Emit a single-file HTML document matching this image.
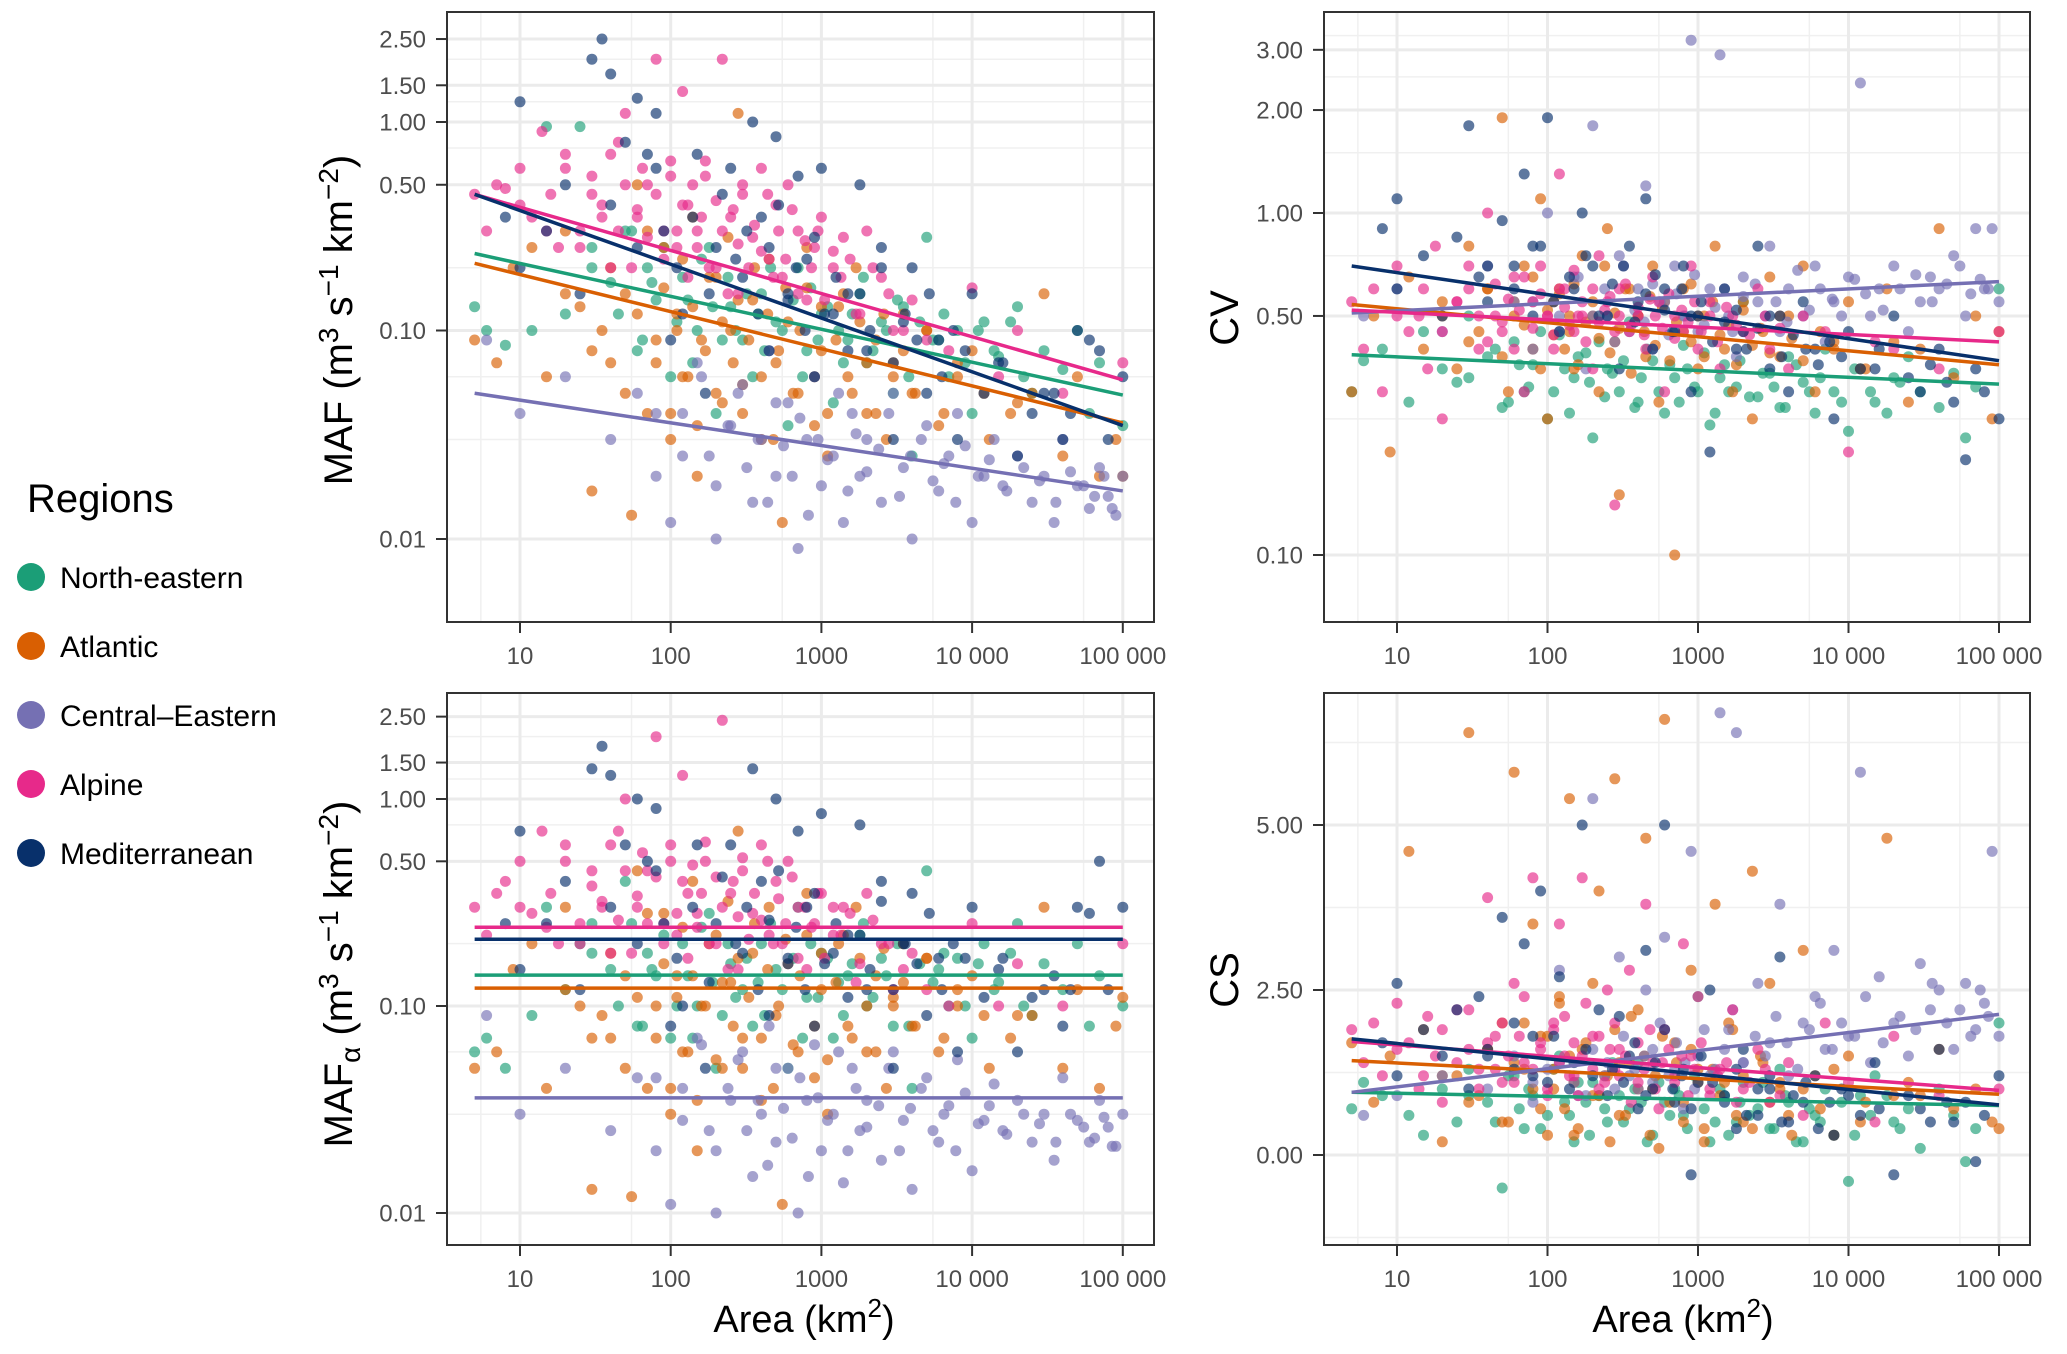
<!DOCTYPE html>
<html><head><meta charset="utf-8"><style>
html,body{margin:0;padding:0;background:#fff;}
svg{display:block;font-family:"Liberation Sans",sans-serif;}
</style></head><body>
<svg id="chart" width="2067" height="1354" viewBox="0 0 2067 1354" xmlns="http://www.w3.org/2000/svg">
<g>
<text x="27" y="512" font-size="40" fill="#000">Regions</text>
<g><circle cx="31" cy="577" r="14" fill="#1b9e77"/><text x="60" y="588" font-size="30">North-eastern</text></g>
<g><circle cx="31" cy="646" r="14" fill="#d95f02"/><text x="60" y="657" font-size="30">Atlantic</text></g>
<g><circle cx="31" cy="715" r="14" fill="#7570b3"/><text x="60" y="726" font-size="30">Central–Eastern</text></g>
<g><circle cx="31" cy="784" r="14" fill="#e7298a"/><text x="60" y="795" font-size="30">Alpine</text></g>
<g><circle cx="31" cy="853" r="14" fill="#08306b"/><text x="60" y="864" font-size="30">Mediterranean</text></g>
</g>
<text transform="translate(352,320) rotate(-90)" text-anchor="middle" font-size="40">MAF (m<tspan font-size="28" dy="-14">3</tspan><tspan dy="14"> s</tspan><tspan font-size="28" dy="-14">−1</tspan><tspan dy="14"> km</tspan><tspan font-size="28" dy="-14">−2</tspan><tspan dy="14">)</tspan></text>
<text transform="translate(352,974) rotate(-90)" text-anchor="middle" font-size="40">MAF<tspan font-size="28" dy="8">α</tspan><tspan dy="-8"> (m</tspan><tspan font-size="28" dy="-14">3</tspan><tspan dy="14"> s</tspan><tspan font-size="28" dy="-14">−1</tspan><tspan dy="14"> km</tspan><tspan font-size="28" dy="-14">−2</tspan><tspan dy="14">)</tspan></text>
<text transform="translate(1238,318) rotate(-90)" text-anchor="middle" font-size="40">CV</text>
<text transform="translate(1238,980) rotate(-90)" text-anchor="middle" font-size="40">CS</text>
<text x="804" y="1332" text-anchor="middle" font-size="38">Area (km<tspan font-size="26" dy="-15">2</tspan><tspan dy="15">)</tspan></text>
<text x="1683" y="1332" text-anchor="middle" font-size="38">Area (km<tspan font-size="26" dy="-15">2</tspan><tspan dy="15">)</tspan></text>
</svg>
<script>
const regions = ['north-eastern','atlantic','central-eastern','alpine','mediterranean'];
const colors = ['#1b9e77','#d95f02','#7570b3','#e7298a','#08306b'];
const xTicks = [10,100,1000,10000,100000];
const xTickLabels = ['10','100','1000','10 000','100 000'];
const mafTicks = [0.01,0.10,0.50,1.00,1.50,2.50];
const mafTickLabels = ['0.01','0.10','0.50','1.00','1.50','2.50'];
const cvTicks = [0.10,0.50,1.00,2.00,3.00];
const cvTickLabels = ['0.10','0.50','1.00','2.00','3.00'];
const csTicks = [0,2.5,5];
const csTickLabels = ['0.00','2.50','5.00'];

const neArea=[5,6,8,12,15,20,25,30,40,50,60,70,80,100,120,150,180,200,250,300,350,400,500,600,700,800,1000,1200,1500,1800,2000,2500,3000,3500,4000,5000,6000,7000,8000,10000,12000,15000,20000,25000,30000,40000,50000,60000,70000,100000,
30,45,55,65,75,90,110,130,140,160,190,220,240,270,320,380,420,460,550,650,750,850,950,1100,1300,1400,1600,1900,2200,2700,3200,3800,4500,5500,6500,9000,11000,14000,18000,22000];
const neMAF=[0.13,0.1,0.085,0.1,0.95,0.12,0.95,0.25,0.17,0.3,0.08,0.2,0.14,0.06,0.18,0.1,0.25,0.04,0.13,0.09,0.06,0.15,0.11,0.035,0.2,0.08,0.12,0.045,0.09,0.15,0.07,0.11,0.05,0.13,0.025,0.28,0.09,0.06,0.1,0.04,0.11,0.075,0.13,0.05,0.08,0.065,0.1,0.04,0.07,0.035,
0.2,0.12,0.3,0.09,0.17,0.25,0.11,0.14,0.07,0.22,0.13,0.09,0.18,0.1,0.15,0.12,0.08,0.2,0.1,0.14,0.06,0.16,0.09,0.13,0.1,0.07,0.12,0.18,0.08,0.1,0.14,0.06,0.11,0.09,0.12,0.07,0.1,0.08,0.11,0.06];
const neMAFa=[0.06,0.07,0.05,0.09,0.3,0.12,0.2,0.25,0.15,0.4,0.08,0.18,0.14,0.07,0.2,0.1,0.28,0.05,0.16,0.12,0.08,0.2,0.15,0.05,0.3,0.11,0.18,0.07,0.14,0.22,0.1,0.17,0.08,0.2,0.04,0.45,0.15,0.1,0.17,0.07,0.2,0.13,0.25,0.09,0.16,0.12,0.2,0.08,0.14,0.1,
0.18,0.1,0.25,0.08,0.15,0.22,0.1,0.14,0.07,0.24,0.13,0.09,0.2,0.11,0.17,0.13,0.09,0.25,0.12,0.17,0.07,0.2,0.11,0.17,0.13,0.09,0.16,0.25,0.11,0.14,0.2,0.08,0.16,0.13,0.18,0.1,0.16,0.12,0.18,0.1];
const neCV=[0.3,0.37,0.4,0.28,0.45,0.35,0.32,0.5,0.38,0.27,0.42,0.3,0.36,0.25,0.44,0.33,0.39,0.22,0.35,0.3,0.48,0.28,0.37,0.26,0.33,0.41,0.3,0.24,0.36,0.31,0.55,0.29,0.34,0.27,0.38,0.32,0.26,0.4,0.3,0.23,0.35,0.28,0.33,0.38,0.3,0.27,0.34,0.22,0.31,0.6,
0.33,0.4,0.28,0.36,0.31,0.45,0.3,0.35,0.26,0.38,0.32,0.42,0.29,0.34,0.37,0.27,0.33,0.4,0.3,0.36,0.28,0.35,0.31,0.39,0.26,0.33,0.3,0.37,0.29,0.34,0.31,0.27,0.36,0.3,0.33,0.28,0.35,0.3,0.26,0.32];
const neCS=[0.7,1.1,0.9,0.6,0.3,1.0,0.5,1.3,0.8,-0.5,1.2,0.4,0.9,0.6,1.5,0.2,0.8,1.1,0.5,0.9,0.7,1.4,0.3,0.8,1.0,0.6,2.4,0.2,0.9,0.5,1.1,0.7,0.4,1.3,0.8,0.2,0.6,1.0,0.3,-0.4,0.9,1.2,0.5,0.7,0.1,1.0,0.6,-0.1,0.4,2.0,
0.9,0.5,1.2,0.7,1.0,0.4,1.3,0.8,0.6,1.1,0.3,0.9,0.7,1.4,0.5,1.0,0.8,0.2,1.1,0.6,0.9,0.4,1.2,0.7,0.5,1.0,0.3,0.8,0.6,1.1,0.4,0.9,0.2,0.7,0.5,0.8,0.3,0.6,0.9,0.4];

const atArea=[5,7,9,12,15,20,25,30,35,40,50,55,60,70,80,90,100,110,120,140,150,170,200,220,250,280,300,350,400,450,500,550,600,700,800,900,1000,1100,1300,1500,1700,2000,2300,2700,3000,3500,4000,5000,6000,8000,10000,13000,18000,25000,30000,40000,50000,70000,90000,100000,
20,30,40,50,60,70,80,90,100,110,120,130,140,150,160,180,200,220,240,260,280,300,330,360,400,440,480,520,580,650,720,800,900,1000,1100,1250,1400,1600,1800,2000,2300,2600,3000,3500,4200,5000,6500,8000,12000,20000];
const atMAF=[0.09,0.07,0.2,0.25,0.06,0.3,0.13,0.017,0.1,0.07,0.15,0.013,0.5,0.04,0.09,0.25,0.03,0.12,0.06,0.35,0.02,0.08,0.18,0.045,0.1,1.1,0.055,0.14,0.03,0.22,0.07,0.012,0.11,0.05,0.16,0.035,0.08,0.025,0.13,0.06,0.2,0.04,0.09,0.03,0.07,0.12,0.05,0.1,0.035,0.06,0.08,0.03,0.04,0.05,0.15,0.025,0.06,0.02,0.03,0.02,
0.15,0.08,0.2,0.05,0.12,0.3,0.07,0.16,0.04,0.1,0.22,0.06,0.13,0.035,0.09,0.18,0.05,0.11,0.28,0.07,0.14,0.04,0.09,0.2,0.06,0.12,0.03,0.08,0.16,0.05,0.1,0.25,0.06,0.13,0.04,0.09,0.15,0.05,0.11,0.07,0.04,0.12,0.06,0.08,0.05,0.1,0.04,0.07,0.05,0.045];
const atMAFa=[0.05,0.06,0.15,0.2,0.04,0.3,0.1,0.013,0.09,0.07,0.14,0.012,0.45,0.04,0.1,0.28,0.03,0.14,0.06,0.4,0.02,0.1,0.22,0.05,0.13,0.7,0.07,0.18,0.035,0.3,0.09,0.011,0.16,0.06,0.22,0.045,0.12,0.03,0.2,0.08,0.3,0.06,0.14,0.04,0.11,0.2,0.08,0.17,0.06,0.1,0.14,0.05,0.07,0.09,0.3,0.05,0.12,0.04,0.08,0.11,
0.12,0.07,0.18,0.05,0.11,0.28,0.07,0.16,0.04,0.11,0.24,0.06,0.14,0.035,0.1,0.2,0.055,0.13,0.32,0.08,0.17,0.05,0.11,0.25,0.07,0.15,0.04,0.1,0.21,0.065,0.14,0.35,0.08,0.18,0.055,0.13,0.22,0.07,0.17,0.1,0.06,0.19,0.1,0.13,0.08,0.17,0.07,0.12,0.09,0.09];
const atCV=[0.3,0.5,0.2,0.65,0.4,0.55,0.35,0.8,0.45,0.6,1.9,0.3,0.5,0.7,0.4,1.1,0.25,0.55,0.6,0.45,0.35,0.75,0.5,0.3,0.9,0.42,0.15,0.6,0.5,0.38,0.7,0.28,0.55,0.1,0.45,0.62,0.35,0.5,0.8,0.4,0.3,0.55,0.25,0.45,0.65,0.38,0.5,0.7,0.3,0.42,0.55,0.35,0.6,0.28,0.4,0.9,0.33,0.5,0.25,0.45,
0.5,0.42,0.6,0.38,0.55,0.47,0.65,0.35,0.52,0.44,0.58,0.4,0.5,0.62,0.36,0.48,0.55,0.43,0.7,0.39,0.51,0.46,0.6,0.34,0.5,0.45,0.57,0.41,0.53,0.37,0.48,0.6,0.42,0.5,0.38,0.55,0.44,0.47,0.36,0.52,0.41,0.46,0.39,0.5,0.43,0.37,0.45,0.4,0.35,0.42];
const atCS=[1.7,0.8,1.5,4.6,1.9,0.2,1.2,6.4,0.9,1.6,2.0,0.5,5.8,1.3,3.5,0.7,1.8,1.0,2.4,5.4,0.3,1.6,0.9,4.0,1.2,5.7,0.6,1.4,2.2,4.8,1.0,0.1,6.6,1.7,0.8,2.8,1.3,0.4,3.8,1.1,1.9,0.5,4.3,1.4,2.6,1.0,0.6,3.1,1.2,0.3,1.5,0.8,4.8,1.1,0.9,1.6,0.7,1.0,0.5,0.4,
1.2,0.8,1.6,0.5,1.4,2.0,1.0,1.8,0.3,1.3,2.3,0.7,1.5,1.1,0.4,1.7,2.6,0.9,1.2,0.2,1.9,1.4,0.6,2.1,1.0,1.5,0.3,1.2,1.8,0.8,1.4,0.5,1.6,1.1,0.2,1.3,0.9,2.0,0.6,1.2,0.4,1.5,0.8,1.1,0.3,1.0,0.7,1.3,0.5,0.9];

const ceArea=[6,10,20,40,60,80,100,120,150,180,200,250,300,350,400,450,500,600,700,800,900,1000,1200,1400,1600,1800,2000,2500,3000,3500,4000,5000,6000,7000,8000,10000,12000,14000,16000,20000,25000,30000,35000,40000,50000,60000,70000,80000,90000,100000,
80,120,160,200,240,280,320,380,440,500,560,640,720,820,950,1100,1300,1500,1700,2000,2400,2800,3300,3900,4600,5500,6500,7800,9000,11000,13000,17000,22000,28000,36000,45000,55000,65000,75000,85000];
const ceMAF=[0.09,0.04,0.06,0.03,0.05,0.02,0.012,0.04,0.07,0.025,0.01,0.035,0.055,0.015,0.03,0.08,0.02,0.045,0.009,0.03,0.06,0.018,0.025,0.012,0.04,0.02,0.03,0.015,0.05,0.022,0.01,0.035,0.017,0.025,0.04,0.012,0.02,0.03,0.018,0.025,0.015,0.02,0.012,0.03,0.018,0.014,0.022,0.016,0.013,0.02,
0.04,0.025,0.06,0.018,0.035,0.05,0.022,0.03,0.015,0.045,0.028,0.02,0.038,0.013,0.03,0.024,0.05,0.017,0.032,0.021,0.027,0.04,0.016,0.025,0.03,0.019,0.023,0.015,0.028,0.02,0.024,0.017,0.022,0.019,0.015,0.021,0.018,0.016,0.02,0.014];
const ceMAFa=[0.09,0.03,0.05,0.025,0.045,0.02,0.011,0.04,0.07,0.025,0.01,0.035,0.06,0.015,0.03,0.08,0.022,0.05,0.01,0.035,0.065,0.02,0.03,0.014,0.05,0.025,0.035,0.018,0.06,0.028,0.013,0.045,0.022,0.033,0.055,0.016,0.028,0.042,0.025,0.035,0.022,0.03,0.018,0.045,0.028,0.022,0.035,0.026,0.021,0.03,
0.045,0.028,0.065,0.02,0.04,0.055,0.025,0.035,0.017,0.05,0.032,0.023,0.045,0.015,0.036,0.028,0.06,0.02,0.04,0.026,0.033,0.05,0.02,0.032,0.04,0.025,0.03,0.02,0.038,0.027,0.033,0.024,0.03,0.027,0.022,0.03,0.026,0.023,0.029,0.021];
const ceCV=[0.5,0.6,0.45,0.7,0.55,0.4,1.0,0.5,0.65,0.35,1.8,0.5,0.75,0.45,0.6,1.2,0.4,0.55,0.7,0.5,3.2,0.45,0.6,2.9,0.5,0.38,0.65,0.55,0.8,0.45,0.6,0.5,0.7,0.42,0.55,0.65,2.4,0.5,0.6,0.7,0.45,0.55,0.65,0.6,0.75,0.5,0.9,0.6,0.9,0.55,
0.55,0.45,0.65,0.5,0.6,0.42,0.7,0.52,0.48,0.62,0.55,0.44,0.58,0.5,0.66,0.47,0.53,0.6,0.45,0.57,0.62,0.5,0.55,0.48,0.68,0.52,0.6,0.56,0.5,0.64,0.58,0.52,0.6,0.66,0.55,0.62,0.7,0.58,0.64,0.6];
const ceCS=[0.6,0.9,1.2,1.0,1.5,0.8,1.3,2.8,1.1,0.9,5.4,1.4,3.0,1.2,1.0,2.5,1.6,3.3,1.3,0.7,4.6,1.5,1.2,6.7,1.9,6.4,1.4,2.6,1.7,3.8,1.2,2.0,2.4,1.6,3.1,1.8,5.8,1.4,2.7,2.0,1.5,2.9,2.2,2.5,1.6,2.6,1.9,2.3,4.6,1.8,
1.1,1.4,0.9,1.6,1.2,1.0,1.8,1.3,1.5,1.1,2.0,1.2,1.7,1.4,1.0,1.9,1.3,1.6,2.2,1.4,1.8,1.5,2.1,1.7,1.3,1.9,2.3,1.6,2.0,1.8,2.4,1.7,2.1,1.9,2.6,2.0,2.2,1.8,2.5,2.1];

const alArea=[5,6,7,8,10,12,14,16,18,20,25,30,35,40,45,50,60,70,80,90,100,110,120,130,150,170,200,220,250,280,300,350,400,450,500,550,600,700,800,900,1000,1200,1400,1700,2000,2500,3000,4000,5000,7000,10000,15000,20000,40000,100000,
10,15,20,25,30,35,40,45,50,55,60,65,70,80,90,100,110,120,130,140,150,160,170,180,200,220,240,260,280,300,330,360,400,440,480,520,580,640,700,780,860,950,1050,1200,1350,1550,1800,2200,2800,3500];
const alMAF=[0.45,0.3,0.5,0.48,0.6,0.35,0.9,0.45,0.25,0.7,0.3,0.55,0.4,0.2,0.8,1.1,0.35,0.5,2.0,0.3,0.65,0.25,1.4,0.4,0.3,0.55,0.2,2.0,0.35,0.15,0.45,0.28,0.6,0.22,0.4,0.18,0.5,0.3,0.14,0.25,0.35,0.2,0.28,0.12,0.3,0.18,0.1,0.14,0.09,0.08,0.16,0.06,0.1,0.05,0.07,
0.4,0.3,0.6,0.25,0.45,0.35,0.7,0.3,0.5,0.2,0.38,0.6,0.28,0.45,0.22,0.55,0.3,0.4,0.18,0.5,0.25,0.35,0.65,0.2,0.42,0.3,0.15,0.38,0.26,0.5,0.2,0.32,0.24,0.45,0.18,0.3,0.22,0.38,0.15,0.27,0.2,0.3,0.14,0.24,0.18,0.22,0.12,0.2,0.15,0.1];
const alMAFa=[0.3,0.22,0.35,0.4,0.5,0.28,0.7,0.35,0.2,0.6,0.25,0.45,0.32,0.18,0.7,1.0,0.3,0.45,2.0,0.25,0.6,0.22,1.3,0.35,0.28,0.5,0.2,2.4,0.35,0.15,0.45,0.28,0.6,0.22,0.4,0.2,0.5,0.3,0.15,0.25,0.35,0.22,0.3,0.13,0.35,0.2,0.12,0.18,0.12,0.1,0.25,0.1,0.16,0.1,0.2,
0.3,0.24,0.5,0.2,0.38,0.3,0.6,0.26,0.45,0.18,0.34,0.55,0.25,0.42,0.2,0.5,0.28,0.4,0.17,0.48,0.24,0.35,0.62,0.2,0.42,0.3,0.15,0.4,0.27,0.52,0.21,0.35,0.26,0.5,0.2,0.33,0.25,0.42,0.17,0.3,0.24,0.35,0.17,0.3,0.22,0.28,0.16,0.26,0.2,0.15];
const alCV=[0.55,0.4,0.6,0.3,0.7,0.45,0.5,0.35,0.8,0.25,0.55,0.6,0.4,1.0,0.5,0.45,0.65,0.3,0.55,0.7,0.5,0.4,1.3,0.6,0.45,0.5,0.35,0.75,0.55,0.14,0.6,0.45,0.5,0.4,0.65,0.55,0.3,0.5,0.45,0.7,0.4,0.55,0.35,0.5,0.45,0.6,0.4,0.35,0.5,0.45,0.2,0.42,0.4,0.35,0.45,
0.5,0.6,0.45,0.55,0.7,0.5,0.42,0.62,0.48,0.56,0.4,0.52,0.65,0.46,0.58,0.5,0.44,0.6,0.53,0.47,0.68,0.5,0.55,0.42,0.6,0.48,0.52,0.57,0.45,0.5,0.62,0.47,0.53,0.44,0.56,0.5,0.46,0.58,0.43,0.52,0.48,0.55,0.45,0.5,0.42,0.53,0.47,0.44,0.5,0.46];
const alCS=[1.9,1.4,2.0,1.2,2.3,1.7,1.0,2.1,1.5,0.8,2.2,1.6,1.3,3.9,1.8,1.1,2.6,1.4,4.2,1.7,0.9,2.0,3.5,1.5,1.2,4.2,1.8,1.0,2.5,1.3,1.6,2.8,1.1,3.8,1.4,0.7,1.9,1.2,3.2,1.5,2.4,0.9,1.3,2.2,1.0,1.6,0.8,1.4,0.6,2.0,1.1,0.5,1.8,0.9,1.0,
1.6,1.2,1.9,1.4,2.2,1.0,1.7,1.3,2.0,1.5,1.1,1.8,2.4,1.3,1.6,1.0,1.9,1.4,2.1,1.2,1.7,0.9,1.5,2.3,1.3,1.8,1.1,1.6,2.0,1.2,1.5,0.8,1.7,1.3,1.9,1.0,1.4,1.6,1.1,1.5,0.9,1.3,1.7,1.0,1.2,1.4,0.8,1.1,1.3,0.9];

const meArea=[8,10,10,15,20,25,30,35,40,50,60,70,80,90,100,120,150,170,200,250,300,350,400,450,500,600,700,800,900,1000,1200,1500,1800,2000,2500,3000,3500,4000,5000,6000,8000,10000,15000,20000,30000,40000,50000,60000,70000,100000,
40,60,80,110,140,180,220,270,320,380,450,520,600,680,780,900,1050,1250,1500,1800,2100,2500,3000,3600,4300,5200,6300,7500,9000,12000,16000,25000,35000,45000,80000];
const meMAF=[0.35,1.25,0.2,0.3,0.5,0.15,2.0,2.5,1.7,0.8,1.3,0.7,1.1,0.3,0.09,0.12,0.7,0.05,0.25,0.6,0.18,1.0,0.35,0.08,0.85,0.14,0.55,0.22,0.06,0.6,0.12,0.15,0.5,0.08,0.25,0.03,0.11,0.2,0.05,0.09,0.03,0.15,0.07,0.025,0.05,0.03,0.1,0.09,0.08,0.06,
0.4,0.25,0.6,0.2,0.35,0.15,0.45,0.22,0.3,0.12,0.25,0.4,0.15,0.2,0.1,0.28,0.12,0.18,0.08,0.15,0.1,0.2,0.07,0.12,0.09,0.15,0.06,0.1,0.08,0.05,0.07,0.04,0.05,0.04,0.03];
const meMAFa=[0.25,0.7,0.15,0.25,0.4,0.12,1.4,1.8,1.3,0.6,1.0,0.5,0.9,0.25,0.08,0.1,0.6,0.05,0.25,0.6,0.18,1.4,0.4,0.09,1.0,0.16,0.7,0.3,0.08,0.85,0.18,0.22,0.75,0.12,0.4,0.05,0.2,0.35,0.09,0.17,0.06,0.3,0.15,0.06,0.12,0.08,0.3,0.28,0.5,0.3,
0.3,0.2,0.45,0.17,0.3,0.13,0.42,0.2,0.3,0.12,0.26,0.45,0.17,0.24,0.12,0.35,0.16,0.25,0.11,0.22,0.15,0.32,0.12,0.2,0.16,0.28,0.12,0.2,0.17,0.11,0.17,0.11,0.14,0.12,0.12];
const meCV=[0.9,1.1,0.6,0.75,0.5,0.85,1.8,0.65,0.55,0.95,0.7,1.3,0.5,0.8,1.9,0.45,0.6,1.0,0.7,0.5,0.35,0.8,0.55,1.1,0.4,0.6,0.45,0.7,0.3,0.5,0.2,0.6,0.4,0.45,0.8,0.35,0.5,0.3,0.55,0.4,0.25,0.45,0.35,0.5,0.3,0.4,0.28,0.19,0.35,0.25,
0.7,0.6,0.8,0.55,0.65,0.75,0.5,0.62,0.7,0.48,0.58,0.66,0.52,0.45,0.6,0.5,0.55,0.42,0.48,0.52,0.4,0.46,0.5,0.38,0.44,0.4,0.36,0.42,0.38,0.35,0.4,0.33,0.36,0.32,0.3];
const meCS=[1.7,2.6,1.2,1.9,1.5,2.2,1.0,2.4,1.6,3.6,1.3,3.2,1.8,4.0,1.1,2.7,1.4,5.0,1.2,0.9,2.1,1.5,0.7,3.1,1.0,5.0,0.8,1.3,-0.3,1.1,2.5,0.9,0.4,1.6,0.6,1.0,3.0,0.5,0.8,1.2,0.3,0.9,1.4,-0.3,0.7,1.6,0.5,0.8,-0.1,1.2,
1.5,2.0,1.2,1.8,1.0,1.6,2.2,1.3,1.1,1.7,0.9,1.4,1.9,1.0,1.2,0.7,1.5,1.1,0.8,1.3,0.6,1.0,1.2,0.5,0.9,1.1,0.4,0.8,1.0,0.6,0.7,0.9,0.5,0.8,0.6];

// fitted line values at area 5 and 100000, region order as `regions`
const lineAreas=[5,100000];
const mafLineStart=[0.234,0.21,0.050,0.45,0.45];
const mafLineEnd=[0.049,0.036,0.017,0.058,0.035];
const mafaLine=[0.141,0.122,0.036,0.24,0.21];
const cvLineStart=[0.385,0.54,0.51,0.52,0.70];
const cvLineEnd=[0.316,0.36,0.63,0.42,0.37];
const csLineStart=[0.95,1.43,0.95,1.72,1.76];
const csLineEnd=[0.75,0.92,2.13,0.98,0.76];

const areas=[neArea,atArea,ceArea,alArea,meArea];
const mafs=[neMAF,atMAF,ceMAF,alMAF,meMAF];
const mafas=[neMAFa,atMAFa,ceMAFa,alMAFa,meMAFa];
const cvs=[neCV,atCV,ceCV,alCV,meCV];
const css=[neCS,atCS,ceCS,alCS,meCS];

const svg=document.getElementById('chart');
const NS='http://www.w3.org/2000/svg';
function mk(tag,attrs,parent){const e=document.createElementNS(NS,tag);for(const k in attrs)e.setAttribute(k,attrs[k]);parent.appendChild(e);return e;}
const L=Math.log10;

const panels=[
 {name:'maf',x0:447,x1:1154,y0:12,y1:622,xo:520,xd:150.7,y:v=>122-208.5*L(v),ticks:mafTicks,labels:mafTickLabels,minor:[0.03,0.75,2.0,0.2,0.06,1.25],data:mafs,ls:mafLineStart,le:mafLineEnd},
 {name:'cv',x0:1324,x1:2030,y0:12,y1:622,xo:1397,xd:150.5,y:v=>213-342*L(v),ticks:cvTicks,labels:cvTickLabels,minor:[0.25,0.75,1.5,2.5,3.3],data:cvs,ls:cvLineStart,le:cvLineEnd},
 {name:'mafa',x0:447,x1:1154,y0:693,y1:1245,xo:520,xd:150.7,y:v=>799-207*L(v),ticks:mafTicks,labels:mafTickLabels,minor:[0.03,0.2,0.75,1.25,2.0,0.06],data:mafas,ls:mafaLine,le:mafaLine},
 {name:'cs',x0:1324,x1:2030,y0:693,y1:1245,xo:1397,xd:150.5,y:v=>1155-66*v,ticks:csTicks,labels:csTickLabels,minor:[-1.25,1.25,3.75,6.25],data:css,ls:csLineStart,le:csLineEnd}
];

panels.forEach(p=>{
 const xs=a=>p.xo+p.xd*(L(a)-1);
 const g=mk('g',{},svg);
 
 
 const clipId='clip-'+p.name;
 const cp=mk('clipPath',{id:clipId},g);
 mk('rect',{x:p.x0,y:p.y0,width:p.x1-p.x0,height:p.y1-p.y0},cp);
 const grid=mk('g',{'clip-path':'url(#'+clipId+')'},g);
 
 
 p.minor.forEach(v=>{const y=p.y(v);mk('line',{x1:p.x0,x2:p.x1,y1:y,y2:y,stroke:'#f0f0f0','stroke-width':1.5},grid);});
 [0.74,1.74,2.74,3.74,4.74].forEach(l=>{const x=p.xo+p.xd*(l-1);mk('line',{x1:x,x2:x,y1:p.y0,y2:p.y1,stroke:'#f0f0f0','stroke-width':1.5},grid);});
 p.ticks.forEach(v=>{const y=p.y(v);mk('line',{x1:p.x0,x2:p.x1,y1:y,y2:y,stroke:'#ebebeb','stroke-width':3},grid);});
 xTicks.forEach(a=>{const x=xs(a);mk('line',{x1:x,x2:x,y1:p.y0,y2:p.y1,stroke:'#ebebeb','stroke-width':3},grid);});
 const pts=mk('g',{'clip-path':'url(#'+clipId+')'},g);
 
 
 for(let r=0;r<5;r++){
  const A=areas[r],V=p.data[r];
  for(let i=0;i<A.length;i++){
   const c=mk('circle',{cx:xs(A[i]).toFixed(1),cy:p.y(V[i]).toFixed(1),r:5.5,fill:colors[r],'fill-opacity':0.65},pts);
   
   
  }
 }
 for(let r=0;r<5;r++){
  const ln=mk('line',{x1:xs(lineAreas[0]),y1:p.y(p.ls[r]),x2:xs(lineAreas[1]),y2:p.y(p.le[r]),stroke:colors[r],'stroke-width':3.5},g);
  
  
 }
 const fr=mk('rect',{x:p.x0,y:p.y0,width:p.x1-p.x0,height:p.y1-p.y0,fill:'none',stroke:'#333','stroke-width':2},g);
 
 
 xTicks.forEach((a,i)=>{const x=xs(a);
  mk('line',{x1:x,x2:x,y1:p.y1,y2:p.y1+11,stroke:'#333','stroke-width':2},g);
  const t=mk('text',{x:x,y:p.y1+42,'text-anchor':'middle','font-size':24,fill:'#4d4d4d'},g);
  t.textContent=xTickLabels[i];
  
  
 });
 p.ticks.forEach((v,i)=>{const y=p.y(v);
  mk('line',{x1:p.x0-11,x2:p.x0,y1:y,y2:y,stroke:'#333','stroke-width':2},g);
  const t=mk('text',{x:p.x0-21,y:y+8.5,'text-anchor':'end','font-size':24,fill:'#4d4d4d'},g);
  t.textContent=p.labels[i];
  
  
 });
});
</script>
</body></html>
